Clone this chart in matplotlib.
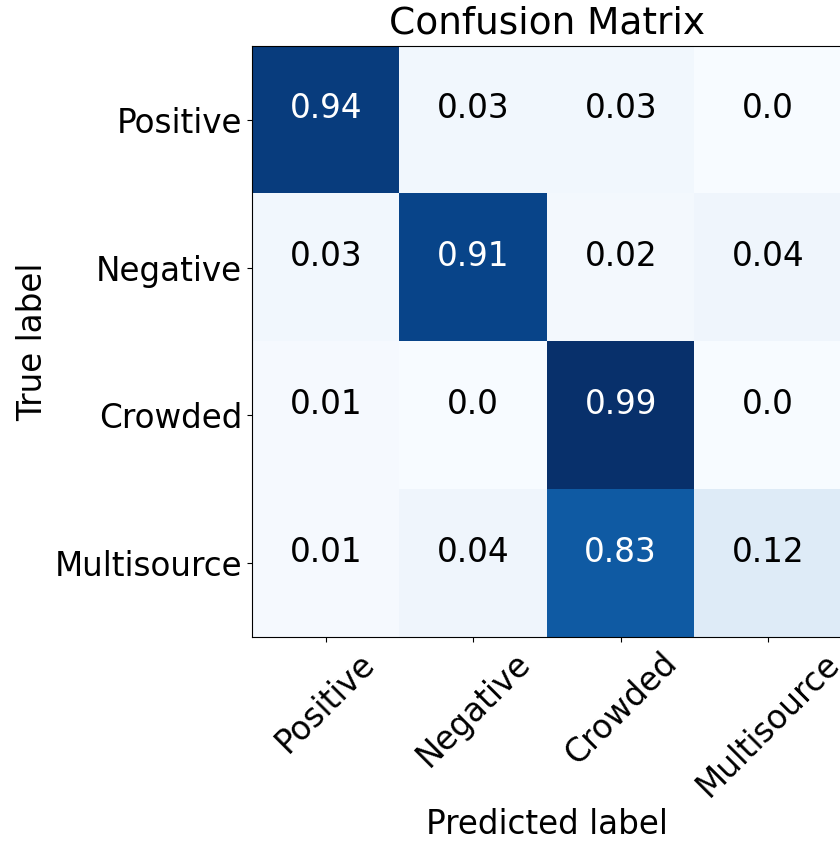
"""
Confusion matrix heatmap (normalized)
"""

import matplotlib
matplotlib.use('Agg')
import matplotlib.pyplot as plt
import numpy as np

classes = ['Positive', 'Negative', 'Crowded', 'Multisource']

row_positive = [0.94, 0.03, 0.03, 0.0]
row_negative = [0.03, 0.91, 0.02, 0.04]
row_crowded = [0.01, 0.0, 0.99, 0.0]
row_multisource = [0.01, 0.04, 0.83, 0.12]

plt.rcParams['font.family'] = ['DejaVu Sans']
plt.rcParams['font.size'] = 23.5

cm = np.array([row_positive, row_negative, row_crowded, row_multisource])

fig = plt.figure(figsize=(8.4, 8.41), dpi=100)
# the original image is cropped on the right, so the axes runs slightly past the edge
ax = fig.add_axes([252 / 840, 1 - 637 / 841, 590 / 840, 591 / 841])
ax.imshow(cm, interpolation='nearest', cmap=plt.cm.Blues, aspect='auto')
ax.set_title('Confusion Matrix', fontsize=27, pad=9)

tick_marks = np.arange(len(classes))
ax.set_xticks(tick_marks)
ax.set_xticklabels(classes, rotation=45)
ax.set_yticks(tick_marks)
ax.set_yticklabels(classes)

thresh = cm.max() / 2.
for i in range(cm.shape[0]):
    for j in range(cm.shape[1]):
        ax.text(j, i - 0.075, str(cm[i, j]),
                horizontalalignment='center', verticalalignment='center',
                color='white' if cm[i, j] > thresh else 'black')

ax.set_ylabel('True label')
ax.set_xlabel('Predicted label')

fig.savefig('out.png', dpi=100)
